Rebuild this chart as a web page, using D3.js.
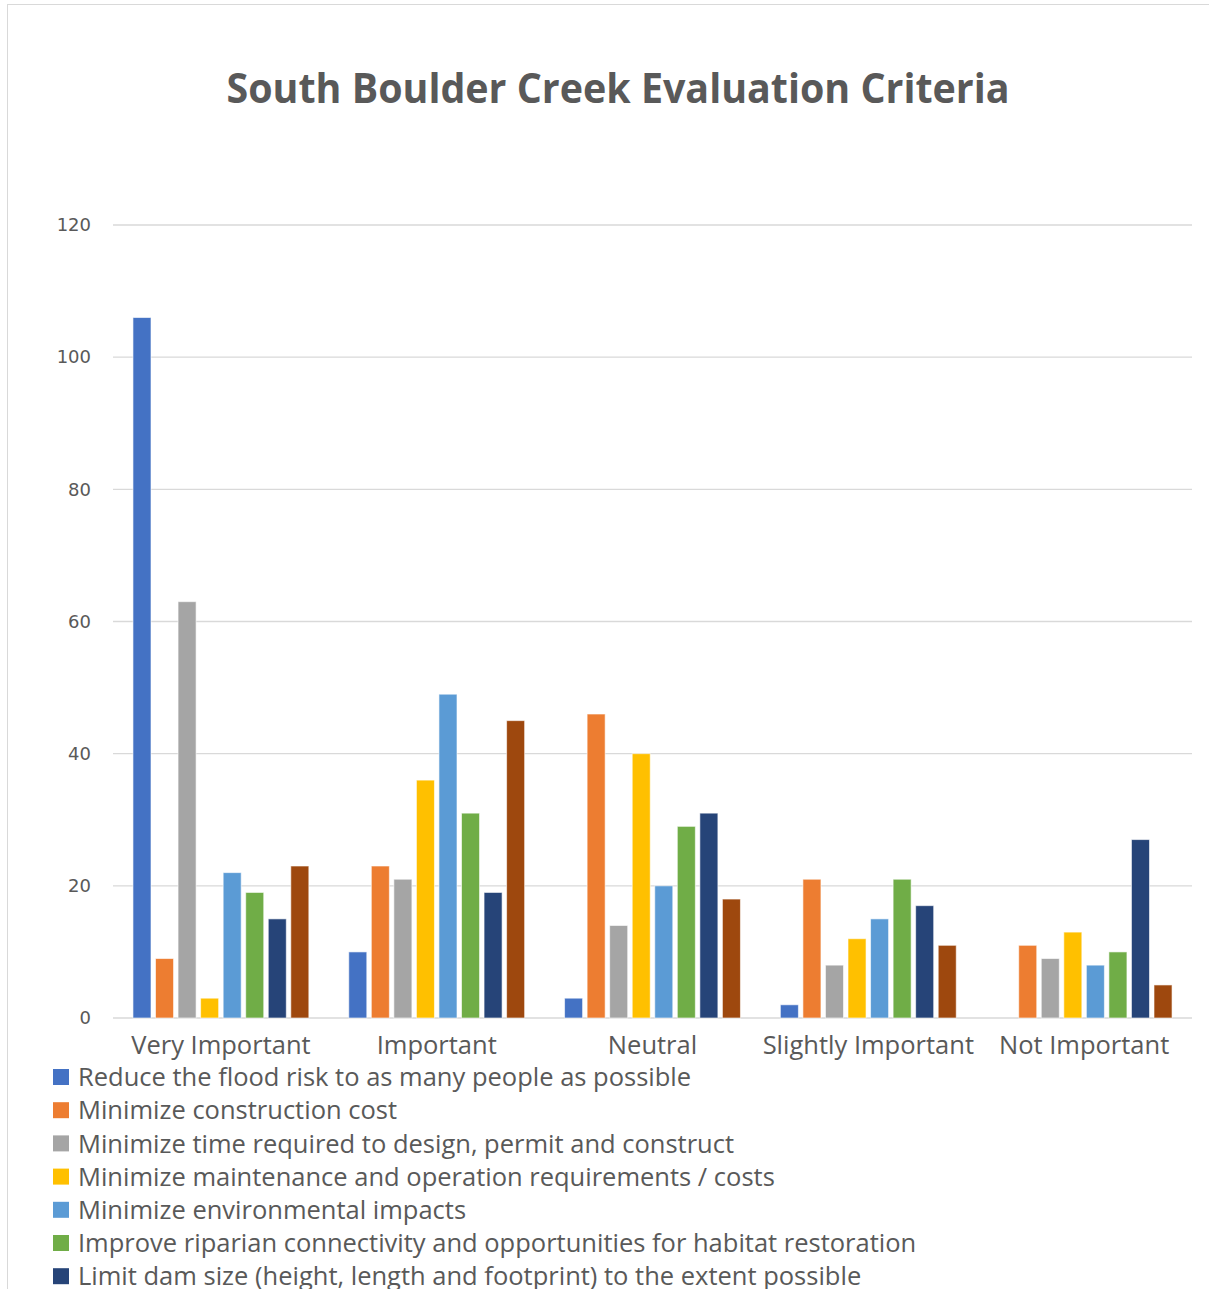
<html>
<head>
<script src="https://d3js.org/d3.v7.min.js"></script>
<style>
    body { margin: 0; background: #fff; }
    text { font-family: 'Open Sans', 'Noto Sans', sans-serif; }
    .ytick text { font-family: 'DejaVu Sans', sans-serif; }
</style>
</head>
<body>
<div id="chart"></div>
<script>
    // categories and series
    var categories = ["Very Important", "Important", "Neutral", "Slightly Important", "Not Important"];
    var seriesNames = [
        "Reduce the flood risk to as many people as possible",
        "Minimize construction cost",
        "Minimize time required to design, permit and construct",
        "Minimize maintenance and operation requirements / costs",
        "Minimize environmental impacts",
        "Improve riparian connectivity and opportunities for habitat restoration",
        "Limit dam size (height, length and footprint) to the extent possible",
        "Other criteria"
    ];
    var floodRisk     = [106, 10, 3, 2, 0];
    var constrCost    = [9, 23, 46, 21, 11];
    var timeRequired  = [63, 21, 14, 8, 9];
    var maintenance   = [3, 36, 40, 12, 13];
    var environment   = [22, 49, 20, 15, 8];
    var riparian      = [19, 31, 29, 21, 10];
    var damSize       = [15, 19, 31, 17, 27];
    var other         = [23, 45, 18, 11, 5];
    var yTicks = [0, 20, 40, 60, 80, 100, 120];

    var seriesValues = [floodRisk, constrCost, timeRequired, maintenance, environment, riparian, damSize, other];
    var colors = ["#4472C4", "#ED7D31", "#A5A5A5", "#FFC000", "#5B9BD5", "#70AD47", "#264478", "#9E480E"];

    var width = 1209, height = 1289;
    var svg = d3.select("#chart").append("svg")
        .attr("width", width)
        .attr("height", height);

    // chart frame
    svg.append("rect")
        .attr("x", 7.5).attr("y", 4.5)
        .attr("width", 1300).attr("height", 1400)
        .attr("fill", "#fff")
        .attr("stroke", "#d9d9d9");

    // title
    svg.append("text")
        .attr("x", 618).attr("y", 103)
        .attr("text-anchor", "middle")
        .attr("font-size", 41)
        .attr("font-weight", "bold")
        .attr("fill", "#595959")
        .attr("textLength", 783)
        .attr("lengthAdjust", "spacingAndGlyphs")
        .text("South Boulder Creek Evaluation Criteria");

    var plotLeft = 113, plotRight = 1192, plotTop = 225, plotBottom = 1018;

    var x0 = d3.scaleBand().domain(categories).range([plotLeft, plotRight])
        .paddingInner(0.185).paddingOuter(0.0925);
    var x1 = d3.scaleBand().domain(d3.range(seriesNames.length)).range([0, x0.bandwidth()])
        .paddingInner(0.2).paddingOuter(0.0);
    var y = d3.scaleLinear().domain([0, 120]).range([plotBottom, plotTop]);

    // gridlines
    svg.append("g")
        .selectAll("line")
        .data(yTicks)
        .enter().append("line")
        .attr("x1", plotLeft).attr("x2", plotRight)
        .attr("y1", function(d){ return y(d); })
        .attr("y2", function(d){ return y(d); })
        .attr("stroke", "#d9d9d9")
        .attr("stroke-width", 1.3);

    // y axis labels
    var yAxis = svg.append("g")
        .attr("class", "ytick")
        .attr("transform", "translate(" + (plotLeft - 22) + ",0)")
        .call(d3.axisLeft(y).tickValues(yTicks).tickSize(0).tickPadding(0));
    yAxis.select(".domain").remove();
    yAxis.selectAll("text")
        .attr("font-size", 18)
        .attr("fill", "#595959");

    // bars
    var groups = svg.append("g").selectAll("g")
        .data(categories)
        .enter().append("g")
        .attr("transform", function(d){ return "translate(" + x0(d) + ",0)"; });

    groups.selectAll("rect")
        .data(function(d, ci){ return seriesValues.map(function(vals, si){ return {s: si, v: vals[ci]}; }); })
        .enter().append("rect")
        .filter(function(d){ return d.v > 0; })
        .attr("x", function(d){ return x1(d.s); })
        .attr("width", x1.bandwidth())
        .attr("y", function(d){ return y(d.v); })
        .attr("height", function(d){ return y(0) - y(d.v); })
        .attr("fill", function(d){ return colors[d.s]; })
        .attr("stroke", "#fff")
        .attr("stroke-opacity", 0.6)
        .attr("stroke-width", 1);

    // category labels
    var xAxis = svg.append("g")
        .attr("transform", "translate(0," + (plotBottom + 18) + ")")
        .call(d3.axisBottom(x0).tickSize(0).tickPadding(0));
    xAxis.select(".domain").remove();
    xAxis.selectAll("text")
        .attr("font-size", 25.5)
        .attr("fill", "#595959");

    // legend
    var legend = svg.append("g").selectAll("g")
        .data(seriesNames)
        .enter().append("g")
        .attr("transform", function(d, i){ return "translate(53," + (1077 + i * 33.2) + ")"; });
    legend.append("rect")
        .attr("x", 0).attr("y", -8)
        .attr("width", 16).attr("height", 16)
        .attr("fill", function(d, i){ return colors[i]; });
    legend.append("text")
        .attr("x", 25).attr("y", 0)
        .attr("dy", "0.36em")
        .attr("font-size", 25.5)
        .attr("fill", "#595959")
        .text(function(d){ return d; });
</script>
</body>
</html>
